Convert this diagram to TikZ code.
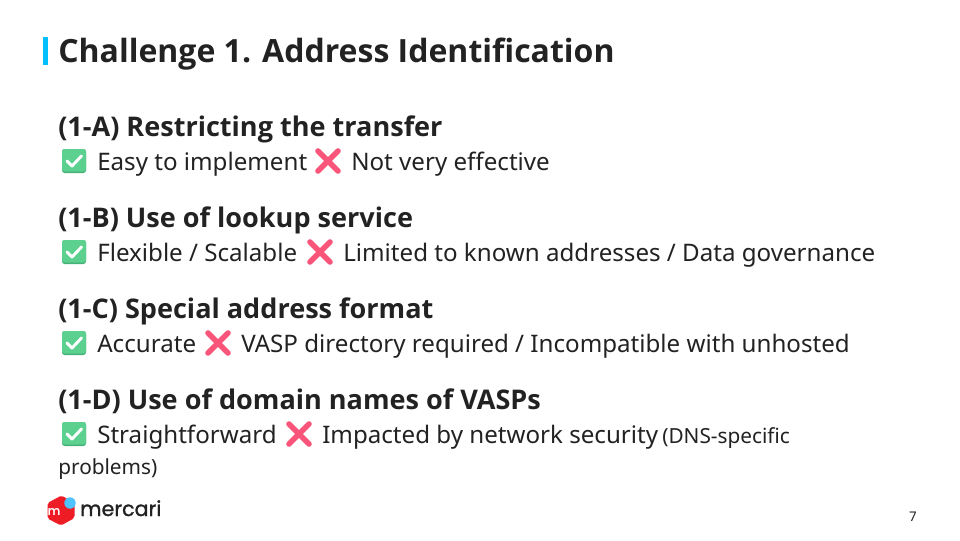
\documentclass[tikz,border=0pt]{standalone}
\usepackage{fontspec}
\usepackage{xcolor}
\setmainfont{Noto Sans}
\newfontfamily\headfont{Open Sans}
\newfontfamily\logofont{Poppins}[FakeBold=1.2]
\definecolor{inktext}{HTML}{222222}
\definecolor{barblue}{HTML}{00BFFF}
\definecolor{okgreen}{HTML}{5CD08F}
\definecolor{okedge}{HTML}{45B077}
\definecolor{nored}{HTML}{F9557A}
\definecolor{logored}{HTML}{EE1C25}
\definecolor{logoblue}{HTML}{4DC4FF}
\tikzset{
	head/.style={anchor=base west,inner sep=0pt,font=\headfont\fontsize{20.3}{25}\selectfont\bfseries,text=inktext},
	body/.style={anchor=base west,inner sep=0pt,font=\fontsize{18.1}{22}\selectfont,text=inktext},
	small/.style={anchor=base west,inner sep=0pt,font=\fontsize{15.6}{19}\selectfont,text=inktext},
	okicon/.pic={
		\fill [okedge,rounded corners=2] (-12,-12) rectangle (12,12);
		\fill [okgreen,rounded corners=2] (-12,-12) rectangle (12,10.5);
		\draw [white,line width=2.2pt,line cap=round,line join=round] (-7,0) -- (-2,5) -- (7.5,-5);
	},
	noicon/.pic={
		\draw [nored,line width=4.2pt,line cap=round] (-10,-10) -- (10,10);
		\draw [nored,line width=4.2pt,line cap=round] (-10,10) -- (10,-10);
	},
}
\begin{document}
\begin{tikzpicture}[x=0.75pt,y=-0.75pt]
	\useasboundingbox (0,0) rectangle (960,540);
	\fill [white] (0,0) rectangle (960,540);
	\fill [barblue] (43,37) rectangle (48,65);
	\node [anchor=base west,inner sep=0pt,font=\headfont\fontsize{24}{29}\selectfont\bfseries,text=inktext] (title) at (58,62) {Challenge 1. Address Identification};
	% 1-A
	\node [head] (heada) at (58,136) {(1-A) Restricting the transfer};
	\pic at (74,161) {okicon};
	\node [body] (proa) at (97,170) {Easy to implement};
	\pic at (328,161) {noicon};
	\node [body] (cona) at (351,170) {Not very effective};
	% 1-B
	\node [head] (headb) at (58,227) {(1-B) Use of lookup service};
	\pic at (74,252) {okicon};
	\node [body] (prob) at (97,261) {Flexible / Scalable};
	\pic at (320,252) {noicon};
	\node [body] (conb) at (343,261) {Limited to known addresses / Data governance};
	% 1-C
	\node [head] (headc) at (58,318) {(1-C) Special address format};
	\pic at (74,343) {okicon};
	\node [body] (proc) at (97,352) {Accurate};
	\pic at (218,343) {noicon};
	\node [body] (conc) at (241,352) {VASP directory required / Incompatible with unhosted};
	% 1-D
	\node [head] (headd) at (58,409) {(1-D) Use of domain names of VASPs};
	\pic at (74,434) {okicon};
	\node [body] (prod) at (97,443) {Straightforward};
	\pic at (299,434) {noicon};
	\node [body] (cond) at (322,443) {Impacted by network security};
	\node [small] (note) at (662,443) {(DNS-specific};
	\node [small] (notetwo) at (58,474) {problems)};
	% logo
	\fill [logored,rounded corners=1.5] (61.5,495.5) -- (74.5,503) -- (74.5,518) -- (61,525.5) -- (47.5,518.5) -- (47.5,503) -- cycle;
	\node [inner sep=0pt,font=\logofont\fontsize{9}{9}\selectfont,text=white] (logom) at (54,511.5) {m};
	\fill [logoblue] (70,503) circle (5.7);
	\node [anchor=base west,inner sep=0pt,font=\logofont\fontsize{15.5}{18}\selectfont,text=inktext] (logoname) at (80,516) {mercari};
	\node [anchor=base east,inner sep=0pt,font=\fontsize{10}{12}\selectfont,text=inktext] (page) at (917,521) {7};
\end{tikzpicture}
\end{document}
